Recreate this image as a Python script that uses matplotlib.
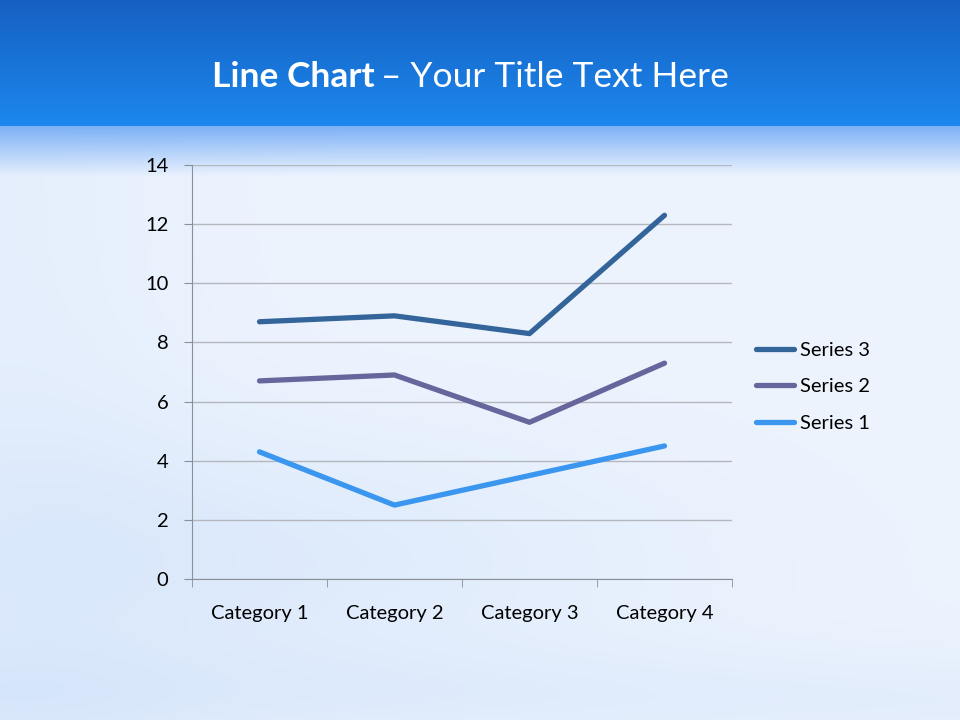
import numpy as np
import matplotlib
matplotlib.use("Agg")
import matplotlib.pyplot as plt
from matplotlib.colors import to_rgb

categories = ["Category 1", "Category 2", "Category 3", "Category 4"]
series1 = [4.3, 2.5, 3.5, 4.5]
series2 = [6.7, 6.9, 5.3, 7.3]
series3 = [8.7, 8.9, 8.3, 12.3]
yticks = [0, 2, 4, 6, 8, 10, 12, 14]

plt.rcParams['font.family'] = ['Lato', 'DejaVu Sans']

fig = plt.figure(figsize=(9.6, 7.2), dpi=100)

# Hintergrund: Banner oben + heller Verlauf
H, W = 720, 960
yy, xx = np.mgrid[0:H, 0:W]
top = np.array(to_rgb("#1660c2"))
bot = np.array(to_rgb("#1c88ee"))
light = np.array(to_rgb("#eef4fe"))
blue = np.array(to_rgb("#c4dbf8"))
edge = np.array(to_rgb("#7db1f6"))

t = np.clip(yy / 126.0, 0, 1)[..., None]
banner = top * (1 - t) + bot * t
s = np.clip((yy - 126) / 50.0, 0, 1)[..., None]
# leichte Wolken-Variation unten/links
mix = 0.35 * np.exp(-((xx - 250) ** 2 / 2e5 + (yy - 560) ** 2 / 2e4)) \
    + 0.25 * np.exp(-((yy - 700) ** 2 / 3e3)) \
    + 0.2 * np.exp(-((xx) ** 2 / 4e4))
body = light * (1 - mix[..., None]) + blue * mix[..., None]
body = edge * (1 - s) + body * s
img = np.where((yy < 126)[..., None], banner, body)

bg = fig.add_axes([0, 0, 1, 1])
bg.imshow(img, aspect='auto', extent=[0, 1, 0, 1], zorder=0)
bg.axis('off')

ttl = fig.text(0.221, 0.893, "Line Chart", color='white', fontsize=25.5,
               fontweight='bold', va='center', ha='left')
fig.canvas.draw()
bb = ttl.get_window_extent()
fig.text(bb.x1 / 960 + 0.006, 0.893, "– Your Title Text Here", color='white',
         fontsize=25.5, va='center', ha='left')

ax = fig.add_axes([0.2, 0.1958, 0.5625, 0.575])
ax.patch.set_alpha(0)
x = np.arange(len(categories))
ax.plot(x, series3, color='#33659b', lw=3.8, solid_capstyle='round', label='Series 3')
ax.plot(x, series2, color='#67669c', lw=3.8, solid_capstyle='round', label='Series 2')
ax.plot(x, series1, color='#3a96ee', lw=3.8, solid_capstyle='round', label='Series 1')

ax.set_xlim(-0.5, 3.5)
ax.set_ylim(0, 14)
ax.set_yticks(yticks)
ax.set_xticks(x)
ax.set_xticklabels(categories)
ax.set_xticks(np.arange(-0.5, 4, 1), minor=True)
ax.tick_params(axis='x', which='major', length=0, pad=19, labelsize=14.5)
ax.tick_params(axis='x', which='minor', length=6, color='#8a8f98', direction='out')
ax.tick_params(axis='y', length=6, color='#8a8f98', labelsize=14.5, pad=11)
ax.grid(axis='y', color='#b4b8be', lw=1)
ax.set_axisbelow(True)
for side in ['top', 'right']:
    ax.spines[side].set_visible(False)
for side in ['left', 'bottom']:
    ax.spines[side].set_color('#8a8f98')

leg = ax.legend(loc='center left', bbox_to_anchor=(1.01, 0.464), frameon=False,
                fontsize=14.5, handlelength=1.9, handletextpad=0.3, labelspacing=0.95)

fig.savefig("out.png", dpi=100)
